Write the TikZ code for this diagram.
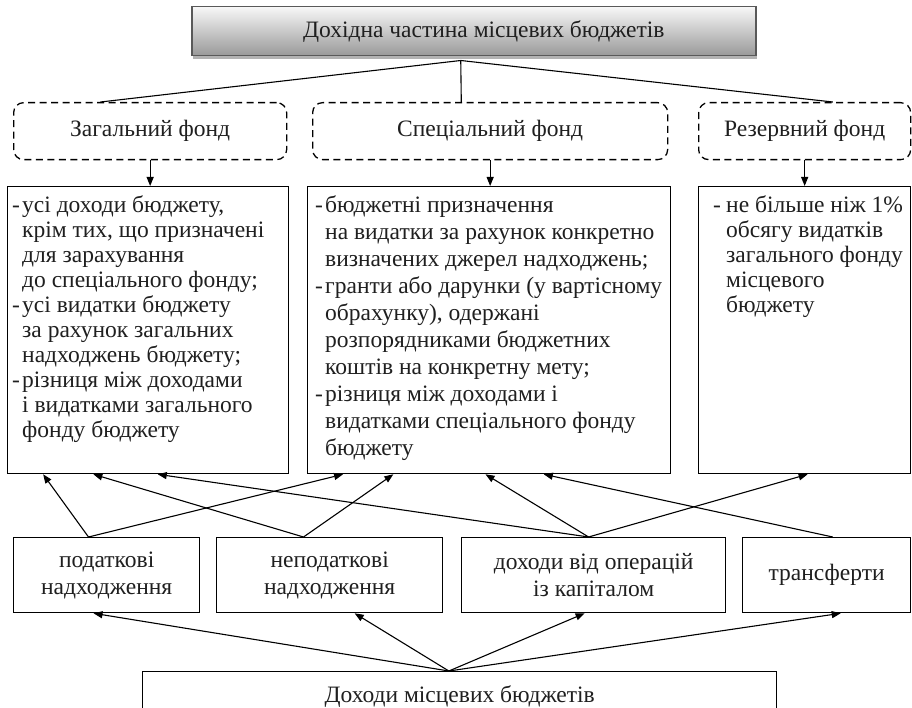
\documentclass[tikz,border=0pt]{standalone}
\usepackage{fontspec}
\setmainfont{Liberation Serif}
\usetikzlibrary{arrows.meta,calc,shadows}
\begin{document}
\begin{tikzpicture}[x=1pt,y=-1pt,
  every node/.style={text=black!88, font=\rmfamily\fontsize{23.5}{25}\selectfont},
  titlebox/.style={draw=black!65, line width=1.5pt, top color=black!3, bottom color=black!40, inner sep=0pt,
     drop shadow={shadow xshift=1.5pt, shadow yshift=-3pt, fill=black!30, opacity=1}},
  fundbox/.style={draw, dash pattern=on 7pt off 4.5pt, line width=1.3pt, rounded corners=10pt, inner sep=0pt},
  textbox/.style={draw, line width=1.3pt, inner sep=0pt},
  boxtext/.style={anchor=north west, align=left, inner sep=0pt},
  srcbox/.style={draw, line width=1.3pt, inner sep=0pt, align=center, font=\rmfamily\fontsize{23.5}{27}\selectfont},
  conn/.style={line width=1.1pt, -{Triangle[length=9pt,width=7pt]}},
  plainline/.style={line width=1.1pt}
]
\clip (0,0) rectangle (912,708);
\fill[white] (0,0) rectangle (912,708);
\newcommand{\dsh}{\makebox[10pt][l]{-}}
\newcommand{\ind}{\hspace*{10pt}}

% title
\node[titlebox, minimum width=564pt, minimum height=49pt, anchor=north west] (T) at (191,6) {\hspace*{20pt}Дохідна частина місцевих бюджетів};

% fund boxes
\node[fundbox, minimum width=273pt, minimum height=57pt, anchor=north west] (dl) at (13,102) {Загальний фонд};
\node[fundbox, minimum width=355pt, minimum height=57pt, anchor=north west] (dm) at (312,102) {Спеціальний фонд};
\node[fundbox, minimum width=212pt, minimum height=57pt, anchor=north west] (dr) at (698,102) {Резервний фонд};

% text boxes
\node[textbox, minimum width=281pt, minimum height=287pt, anchor=north west] (g) at (7,186) {};
\node[textbox, minimum width=363pt, minimum height=287pt, anchor=north west] (s) at (307,186) {};
\node[textbox, minimum width=212pt, minimum height=287pt, anchor=north west] (r) at (698,186) {};

\node[boxtext] (gt) at ($(g.north west)+(5,9)$) {\dsh усі доходи бюджету,\\
\ind крім тих, що призначені\\
\ind для зарахування\\
\ind до спеціального фонду;\\
\dsh усі видатки бюджету\\
\ind за рахунок загальних\\
\ind надходжень бюджету;\\
\dsh різниця між доходами\\
\ind і видатками загального\\
\ind фонду бюджету};

\node[boxtext, font=\rmfamily\fontsize{23.5}{27.1}\selectfont] (st) at ($(s.north west)+(8,9)$) {\dsh бюджетні призначення\\
\ind на видатки за рахунок конкретно\\
\ind визначених джерел надходжень;\\
\dsh гранти або дарунки (у вартісному\\
\ind обрахунку), одержані\\
\ind розпорядниками бюджетних\\
\ind коштів на конкретну мету;\\
\dsh різниця між доходами і\\
\ind видатками спеціального фонду\\
\ind бюджету};

\node[boxtext] (rt) at ($(r.north west)+(15,9)$) {\makebox[13pt][l]{-}не більше ніж 1\%\\
\hspace*{13pt}обсягу видатків\\
\hspace*{13pt}загального фонду\\
\hspace*{13pt}місцевого\\
\hspace*{13pt}бюджету};

% source boxes
\node[srcbox, minimum width=186pt, minimum height=75pt, anchor=north west] (b1) at (13,537) {податкові\\надходження};
\node[srcbox, minimum width=226pt, minimum height=75pt, anchor=north west] (b2) at (216,537) {неподаткові\\надходження};
\node[srcbox, minimum width=264pt, minimum height=75pt, anchor=north west] (b3) at (461,537) {доходи від операцій\\із капіталом};
\node[srcbox, minimum width=168pt, minimum height=75pt, anchor=north west] (b4) at (742,537) {трансферти};

\node[textbox, minimum width=634pt, minimum height=49pt, anchor=north west] (D) at (142,671) {Доходи місцевих бюджетів};

% title connectors
\coordinate (tv) at ($(T.south west)!0.477!(T.south east)+(0,4)$);
\draw[plainline] (tv) -- ($(dl.north west)!0.319!(dl.north east)$);
\draw[plainline] (tv) -- ($(dm.north west)!0.419!(dm.north east)$);
\draw[plainline] (tv) -- ($(dr.north west)!0.632!(dr.north east)$);

% fund to text boxes
\draw[conn] (dl.south) -- (dl.south |- g.north);
\draw[conn] (dm.south) -- (dm.south |- s.north);
\draw[conn] (dr.south) -- (dr.south |- r.north);

% sources to fund text boxes
\coordinate (p1) at ($(b1.north west)!0.403!(b1.north east)$);
\coordinate (p2) at ($(b2.north west)!0.385!(b2.north east)$);
\coordinate (p3) at ($(b3.north west)!0.481!(b3.north east)$);
\coordinate (p4) at ($(b4.north west)!0.536!(b4.north east)$);
\draw[conn] (p1) -- ($(g.south west)!0.128!(g.south east)$);
\draw[conn] (p1) -- ($(s.south west)!0.099!(s.south east)$);
\draw[conn] (p2) -- ($(g.south west)!0.306!(g.south east)$);
\draw[conn] (p2) -- ($(s.south west)!0.237!(s.south east)$);
\draw[conn] (p3) -- ($(g.south west)!0.534!(g.south east)$);
\draw[conn] (p3) -- ($(s.south west)!0.490!(s.south east)$);
\draw[conn] (p3) -- ($(r.south west)!0.514!(r.south east)$);
\draw[conn] (p4) -- ($(s.south west)!0.650!(s.south east)$);

% bottom to sources
\coordinate (ap) at ($(D.north west)!0.483!(D.north east)$);
\draw[conn] (ap) -- ($(b1.south west)!0.43!(b1.south east)$);
\draw[conn] (ap) -- ($(b2.south west)!0.61!(b2.south east)$);
\draw[conn] (ap) -- ($(b3.south west)!0.466!(b3.south east)$);
\draw[conn] (ap) -- ($(b4.south west)!0.583!(b4.south east)$);
\end{tikzpicture}
\end{document}
